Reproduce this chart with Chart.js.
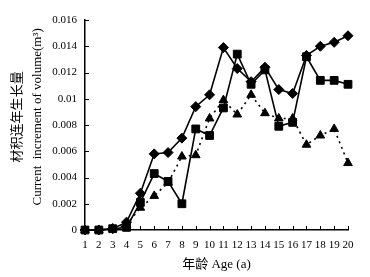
<!DOCTYPE html>
<html>
<head>
<meta charset="utf-8">
<script src="https://cdn.jsdelivr.net/npm/chart.js@4.4.0/dist/chart.umd.min.js"></script>
<style>
  html, body { margin: 0; padding: 0; background: #fff; }
  #wrap { width: 370px; height: 277px; position: relative; }
</style>
</head>
<body>
<div id="wrap"><canvas id="chart"></canvas></div>
<script>
const ages = ['1', '2', '3', '4', '5', '6', '7', '8', '9', '10', '11', '12', '13', '14', '15', '16', '17', '18', '19', '20'];
const diamondSeries = [0, 0, 0.0001, 0.0006, 0.0028, 0.0058, 0.0059, 0.0070, 0.0094, 0.0103, 0.0139, 0.0123, 0.0113, 0.0124, 0.0107, 0.0104, 0.0133, 0.0140, 0.0143, 0.0148];
const squareSeries = [0, 0, 0.0001, 0.0002, 0.0021, 0.0043, 0.0037, 0.0020, 0.0077, 0.0072, 0.0093, 0.0134, 0.0111, 0.0122, 0.0079, 0.0082, 0.0132, 0.0114, 0.0114, 0.0111];
const triangleSeries = [0, 0, 0.0001, 0.0004, 0.0017, 0.0026, 0.0036, 0.0056, 0.0057, 0.0085, 0.0099, 0.0088, 0.0103, 0.0089, 0.0085, 0.0085, 0.0065, 0.0072, 0.0077, 0.0051];
const yTicks = [0, 0.002, 0.004, 0.006, 0.008, 0.01, 0.012, 0.014, 0.016];
const yTitle = ['材积连年生长量', 'Current  increment of volume(m³)'];
const xTitle = '年龄 Age (a)';

const serif = "'Liberation Serif', 'Noto Sans CJK SC', serif";

// ticks of this figure point into the plot
const innerTicks = {
    id: 'innerTicks',
    afterDraw(chart) {
        const ctx = chart.ctx;
        const x = chart.scales.x;
        const y = chart.scales.y;
        ctx.save();
        ctx.strokeStyle = '#000';
        ctx.lineWidth = 1;
        x.ticks.forEach((t, i) => {
            const px = Math.round(x.getPixelForTick(i)) + 0.5;
            ctx.beginPath();
            ctx.moveTo(px, x.top);
            ctx.lineTo(px, x.top - 4);
            ctx.stroke();
        });
        y.ticks.forEach((t, i) => {
            const py = Math.round(y.getPixelForTick(i)) + 0.5;
            ctx.beginPath();
            ctx.moveTo(y.right, py);
            ctx.lineTo(y.right + 4, py);
            ctx.stroke();
        });
        ctx.restore();
    }
};

function series(data, shape, radius, dash) {
    return {
        data: data,
        borderColor: '#000',
        backgroundColor: '#000',
        borderWidth: 1.6,
        borderDash: dash,
        pointStyle: shape,
        pointRadius: radius,
        pointBorderWidth: 1,
        pointBorderColor: '#000',
        pointBackgroundColor: '#000',
        tension: 0,
        clip: false
    };
}

new Chart(document.getElementById('chart'), {
    type: 'line',
    data: {
        labels: ages,
        datasets: [
            series(triangleSeries, 'triangle', 5, [2, 4]),
            series(squareSeries, 'rect', 5.5, []),
            series(diamondSeries, 'rectRot', 5, [])
        ]
    },
    options: {
        responsive: true,
        maintainAspectRatio: false,
        animation: false,
        events: [],
        layout: { padding: { top: 20, right: 22, bottom: 0, left: 0 } },
        plugins: { legend: { display: false }, tooltip: { enabled: false } },
        scales: {
            x: {
                offset: false,
                afterFit: s => { s.height = 47; },
                grid: { display: false, drawTicks: false },
                border: { display: true, color: '#000', width: 1.5 },
                ticks: { color: '#000', padding: 9, maxRotation: 0, autoSkip: false, font: { family: serif, size: 11 } },
                title: { display: true, text: xTitle, color: '#000', padding: { top: 0, bottom: 5 }, font: { family: serif, size: 13 } }
            },
            y: {
                min: 0,
                max: 0.016,
                afterFit: s => { s.width = 85; },
                afterBuildTicks: s => { s.ticks = yTicks.map(v => ({ value: v })); },
                grid: { display: false, drawTicks: false },
                border: { display: true, color: '#000', width: 1.5 },
                ticks: {
                    color: '#000',
                    padding: 8,
                    font: { family: serif, size: 11 },
                    callback: v => Number(v.toFixed(3)).toString()
                },
                title: {
                    display: true,
                    // leading spaces lift the centred title a little, as in the figure
                    text: yTitle.map(t => '     ' + t),
                    color: '#000',
                    padding: { top: 8, bottom: 0 },
                    font: { family: serif, size: 13, lineHeight: 1.54 }
                }
            }
        }
    },
    plugins: [innerTicks]
});
</script>
</body>
</html>
